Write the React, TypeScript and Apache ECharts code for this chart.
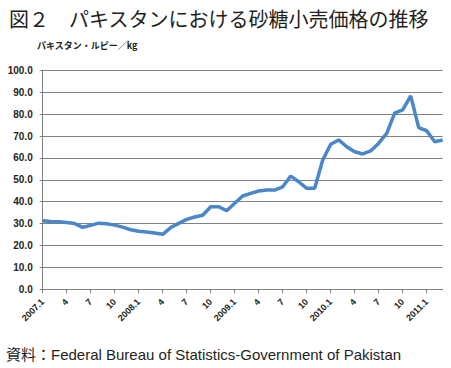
import React, { useEffect, useRef } from "react";
import * as echarts from "echarts";

const titleText = "図２　パキスタンにおける砂糖小売価格の推移";
const unitText = "パキスタン・ルピー／kg";
const sourceText = "資料：Federal Bureau of Statistics-Government of Pakistan";

const years = [2007, 2008, 2009, 2010, 2011];
const monthsLastYear = 3;

// Monthly sugar retail price, 2007.1 – 2011.3 (PKR/kg)
const prices = [
  31.3, 31.0, 30.8, 30.5, 30.0, 28.3, 29.2, 30.2, 29.9, 29.3, 28.4, 27.2,
  26.5, 26.2, 25.7, 25.1, 28.2, 30.1, 31.9, 33.0, 33.8, 37.7, 37.7, 35.9,
  39.3, 42.6, 43.8, 44.9, 45.3, 45.3, 46.8, 51.7, 49.1, 46.1, 46.1, 59.0,
  66.2, 68.2, 65.1, 62.8, 61.8, 63.2, 66.7, 71.2, 80.4, 81.9, 88.3, 73.8,
  72.4, 67.4, 68.2,
];

const categories: string[] = [];
years.forEach((y, yi) => {
  const n = yi === years.length - 1 ? monthsLastYear : 12;
  for (let m = 1; m <= n; m++) {
    categories.push(m === 1 ? `${y}.1` : `${m}`);
  }
});

export default function App() {
  const ref = useRef<HTMLDivElement>(null);
  useEffect(() => {
    if (!ref.current) return;
    const chart = echarts.init(ref.current, null, { renderer: "svg" });
    const labelFont = "'Liberation Sans', Arial, sans-serif";
    chart.setOption({
      animation: false,
      backgroundColor: "#ffffff",
      title: {
        text: titleText,
        left: 4,
        top: 3,
        textStyle: {
          fontFamily: "'Noto Sans CJK JP', sans-serif",
          fontSize: 20,
          fontWeight: "normal",
          color: "#231f20",
        },
      },
      graphic: [
        {
          type: "text",
          left: 37,
          top: 41,
          style: {
            text: unitText,
            fontFamily: "'Noto Sans CJK JP', sans-serif",
            fontSize: 9,
            fontWeight: "bold",
            fill: "#231f20",
          },
        },
        {
          type: "text",
          left: 6,
          top: 347,
          style: {
            text: sourceText,
            fontFamily: "'Liberation Sans', 'Noto Sans CJK JP', sans-serif",
            fontSize: 15,
            fill: "#231f20",
          },
        },
      ],
      grid: { left: 42.7, right: 8.3, top: 70.3, bottom: 78.7, containLabel: false },
      xAxis: {
        type: "category",
        data: categories,
        boundaryGap: false,
        axisLine: { show: true, lineStyle: { color: "#808080", width: 1 } },
        axisTick: {
          show: true,
          interval: 2,
          length: 4,
          lineStyle: { color: "#808080" },
        },
        axisLabel: {
          interval: 2,
          rotate: 45,
          margin: 11,
          fontSize: 9,
          fontWeight: "bold",
          fontFamily: labelFont,
          color: "#231f20",
        },
        splitLine: { show: false },
      },
      yAxis: {
        type: "value",
        min: 0,
        max: 100,
        interval: 10,
        axisLine: { show: true, lineStyle: { color: "#808080", width: 1 } },
        axisTick: { show: true, length: 3, lineStyle: { color: "#808080" } },
        axisLabel: {
          formatter: (v: number) => v.toFixed(1),
          margin: 10,
          fontSize: 10,
          fontWeight: "bold",
          fontFamily: labelFont,
          color: "#231f20",
        },
        splitLine: { show: true, lineStyle: { color: "#808080", width: 1 } },
      },
      series: [
        {
          type: "line",
          data: prices,
          symbol: "none",
          lineStyle: { color: "#4a87c9", width: 3.5 },
          itemStyle: { color: "#4a87c9" },
        },
      ],
    });
    return () => chart.dispose();
  }, []);
  return (
    <div
      ref={ref}
      style={{ position: "fixed", left: 0, top: 0, width: 451, height: 368 }}
    />
  );
}
